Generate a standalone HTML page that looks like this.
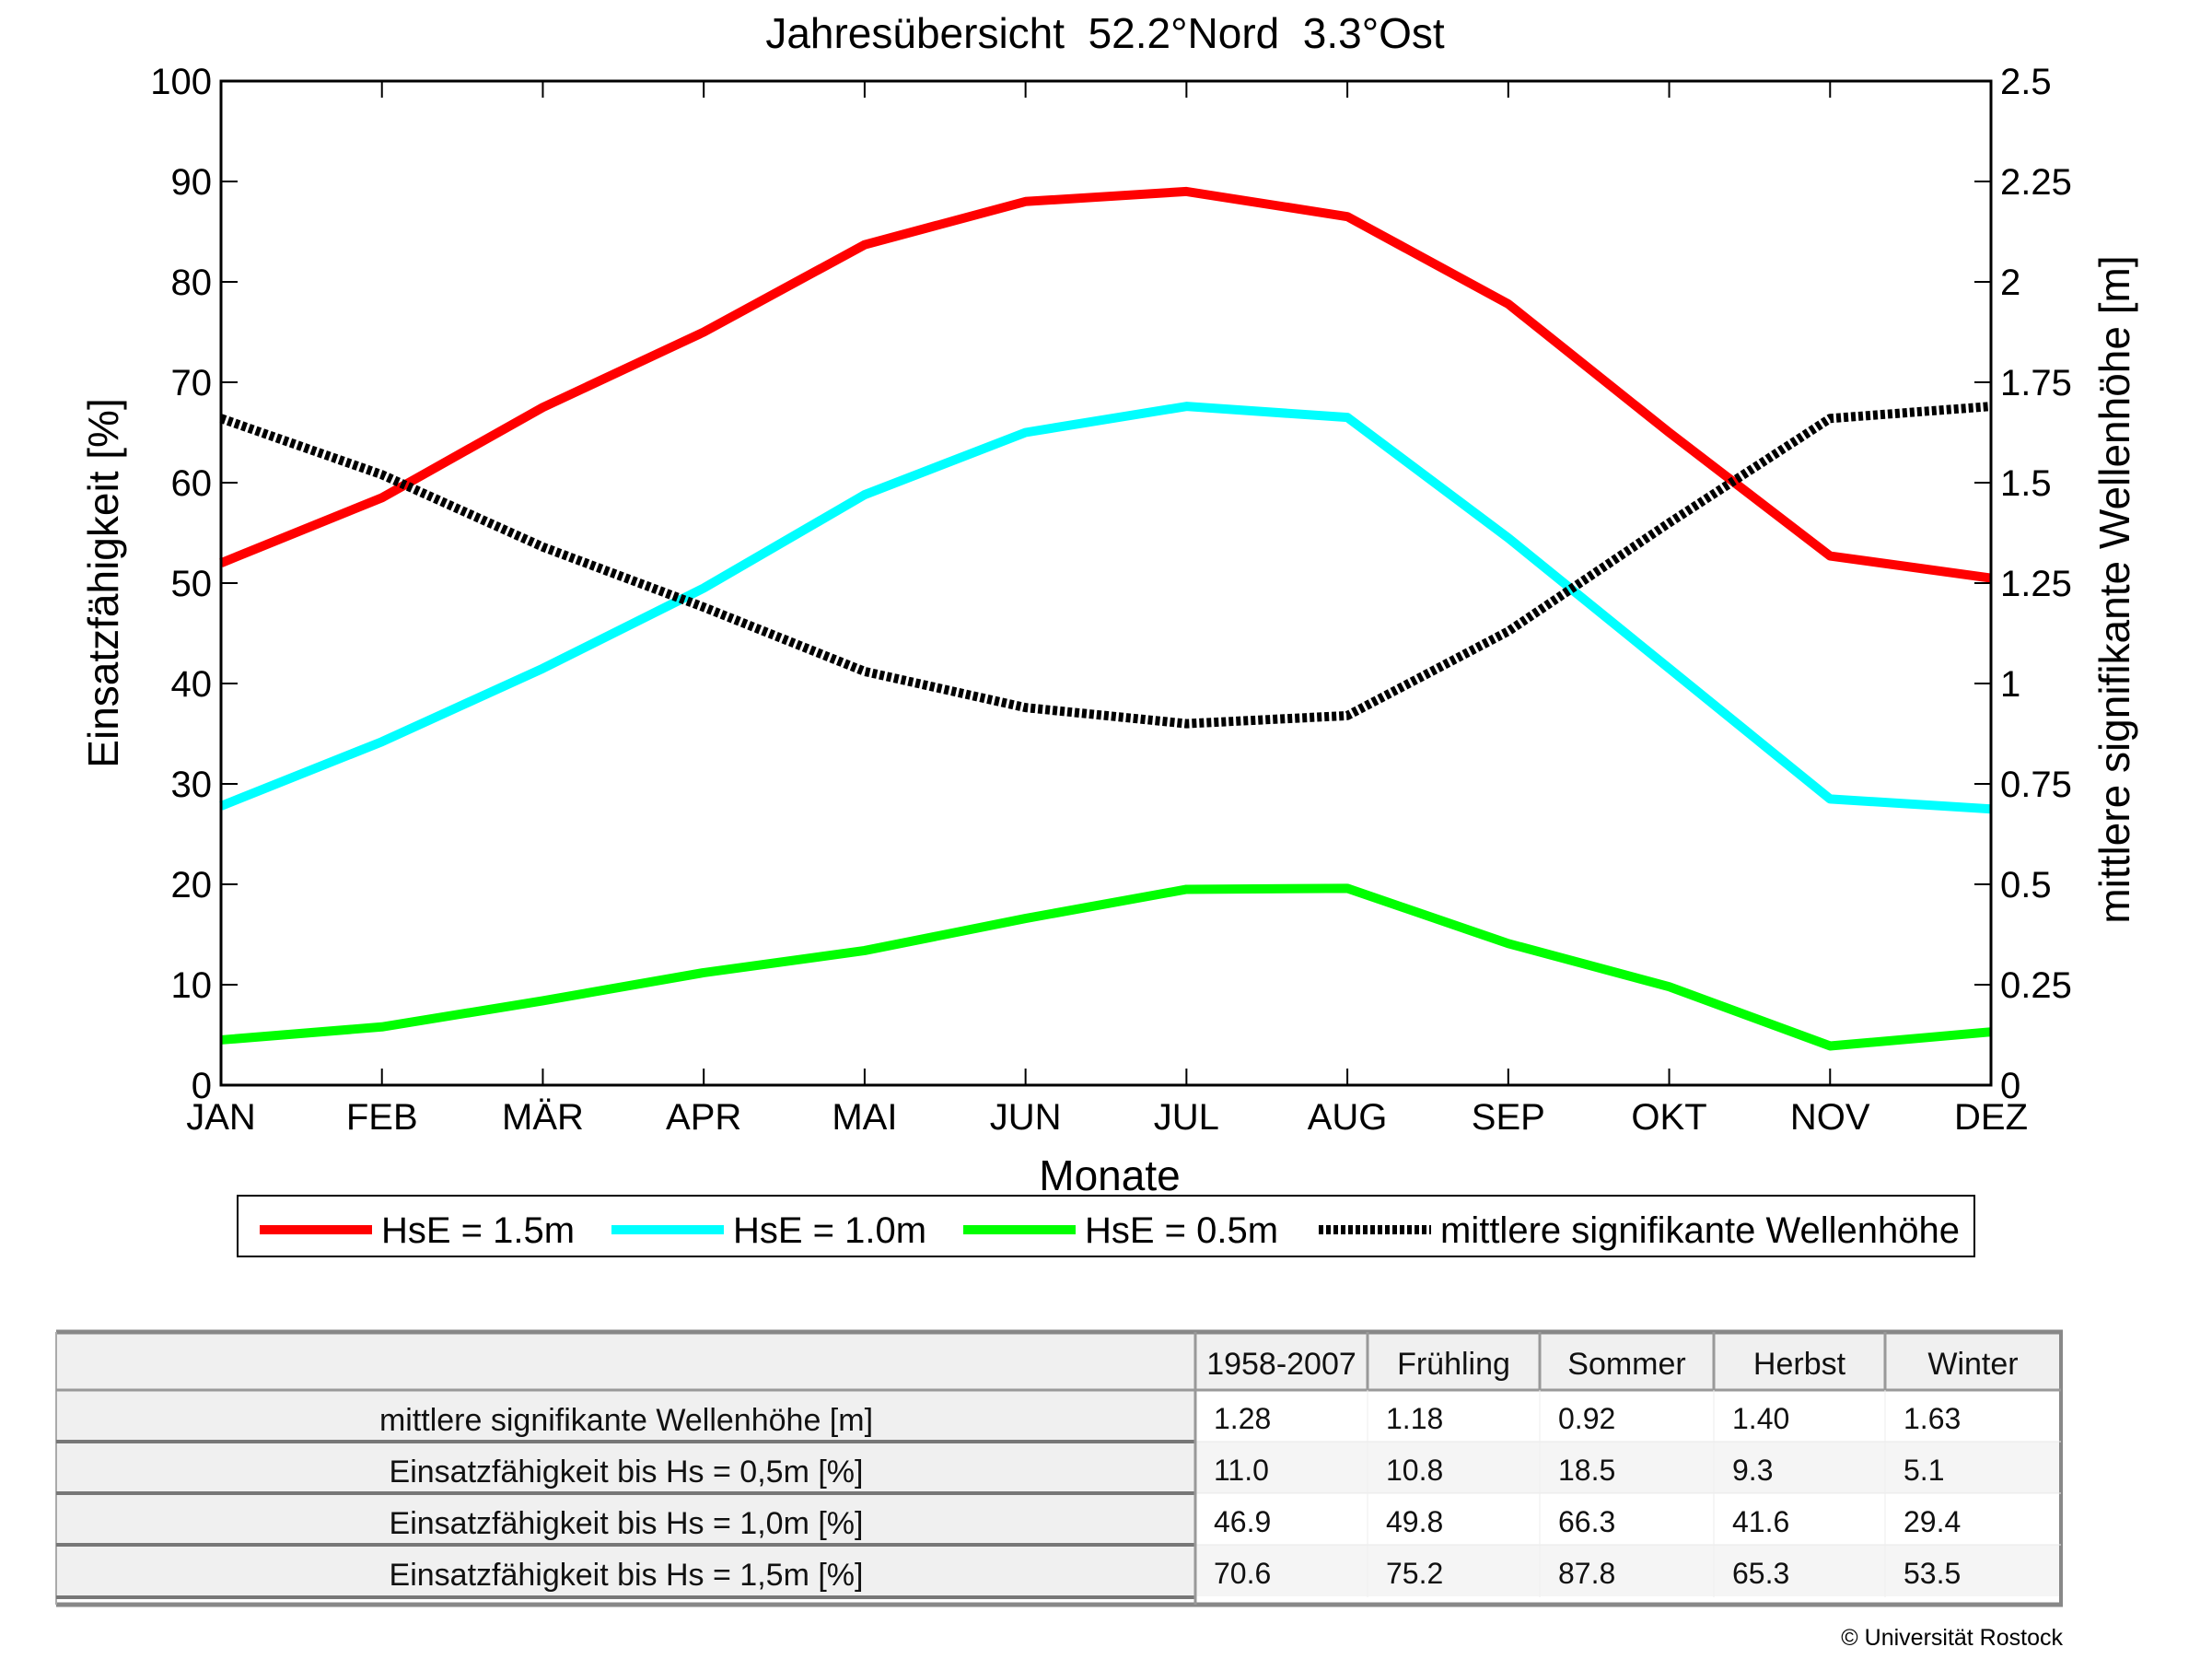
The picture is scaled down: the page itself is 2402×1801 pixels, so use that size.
<!DOCTYPE html>
<html><head><meta charset="utf-8"><style>
html,body{margin:0;padding:0;background:#fff;width:2402px;height:1801px;overflow:hidden}
svg{display:block}
text{font-family:"Liberation Sans",sans-serif}
</style></head><body>
<svg id="chart" width="2402" height="1801" viewBox="0 0 2402 1801" xmlns="http://www.w3.org/2000/svg">
<g id="plot"></g>
</svg>
<script>
const months = ["JAN","FEB","MÄR","APR","MAI","JUN","JUL","AUG","SEP","OKT","NOV","DEZ"];
const red15 = [52,58.5,67.5,75,83.7,88,89,86.5,77.8,65,52.7,50.5];
const cyan10 = [27.8,34.2,41.5,49.5,58.8,65,67.6,66.5,54.5,41.5,28.5,27.5];
const green05 = [4.5,5.8,8.4,11.2,13.4,16.6,19.5,19.6,14.1,9.8,3.9,5.3];
const waveH = [1.66,1.52,1.34,1.19,1.03,0.94,0.90,0.92,1.13,1.40,1.66,1.69];
const leftTicks = [0,10,20,30,40,50,60,70,80,90,100];
const rightTicks = ["0","0.25","0.5","0.75","1","1.25","1.5","1.75","2","2.25","2.5"];
const tableHead = ["1958-2007","Frühling","Sommer","Herbst","Winter"];
const tableRows = ["mittlere signifikante Wellenhöhe [m]","Einsatzfähigkeit bis Hs = 0,5m [%]","Einsatzfähigkeit bis Hs = 1,0m [%]","Einsatzfähigkeit bis Hs = 1,5m [%]"];
const tableVals = [["1.28","1.18","0.92","1.40","1.63"],["11.0","10.8","18.5","9.3","5.1"],["46.9","49.8","66.3","41.6","29.4"],["70.6","75.2","87.8","65.3","53.5"]];

const NS="http://www.w3.org/2000/svg";
const g=document.getElementById('plot');
const L=240,R=2162,T=88,B=1178;
const x=i=>L+(R-L)*i/(months.length-1);
const yL=v=>B-(B-T)*v/100;
const yR=v=>B-(B-T)*v/2.5;
function el(tag,attrs,parent){const e=document.createElementNS(NS,tag);for(const k in attrs)e.setAttribute(k,attrs[k]);(parent||g).appendChild(e);return e;}
function txt(s,attrs,parent){const e=el('text',attrs,parent);e.textContent=s;return e;}

let t=txt("Jahresübersicht\u00a0\u00a052.2°Nord\u00a0\u00a03.3°Ost",{x:1200,y:52,'font-size':46,'text-anchor':'middle'});


function series(vals,yf,color,name,dash){
  const p=el('polyline',{points:vals.map((v,i)=>x(i)+','+yf(v)).join(' '),fill:'none',stroke:color,'stroke-width':10,'stroke-linejoin':'round'});
  if(dash)p.setAttribute('stroke-dasharray','5 3');
  
}
series(red15,yL,'#ff0000','line-hse-1-5m');
series(cyan10,yL,'#00ffff','line-hse-1-0m');
series(green05,yL,'#00ff00','line-hse-0-5m');
series(waveH,yR,'#000000','line-mean-wave-height',true);

let box=el('rect',{x:L,y:T,width:R-L,height:B-T,fill:'none',stroke:'#000','stroke-width':3});

leftTicks.forEach(v=>{const y=yL(v);
  el('line',{x1:L,y1:y,x2:L+18,y2:y,stroke:'#000','stroke-width':2});
  const tt=txt(String(v),{x:L-10,y:y+14,'font-size':40,'text-anchor':'end'});
  });
rightTicks.forEach((s,i)=>{const y=B-(B-T)*i/10;
  el('line',{x1:R-18,y1:y,x2:R,y2:y,stroke:'#000','stroke-width':2});
  const tt=txt(s,{x:R+10,y:y+14,'font-size':40});
  });
months.forEach((m,i)=>{const xx=x(i);
  el('line',{x1:xx,y1:B,x2:xx,y2:B-18,stroke:'#000','stroke-width':2});
  el('line',{x1:xx,y1:T,x2:xx,y2:T+18,stroke:'#000','stroke-width':2});
  const tt=txt(m,{x:xx,y:B+48,'font-size':40,'text-anchor':'middle'});
  });
t=txt("Monate",{x:1205,y:1292,'font-size':46,'text-anchor':'middle'});

t=txt("Einsatzfähigkeit [%]",{x:128,y:(T+B)/2,'font-size':46,'text-anchor':'middle',transform:`rotate(-90 128 ${(T+B)/2})`});

t=txt("mittlere signifikante Wellenhöhe [m]",{x:2312,y:640,'font-size':46,'text-anchor':'middle',transform:'rotate(-90 2312 640)'});


const lg=el('g',{});
el('rect',{x:258,y:1298,width:1886,height:66,fill:'#fff',stroke:'#000','stroke-width':2},lg);
const legItems=[["HsE = 1.5m","#ff0000",282,0],["HsE = 1.0m","#00ffff",664,0],["HsE = 0.5m","#00ff00",1046,0],["mittlere signifikante Wellenhöhe","#000",1432,1]];
legItems.forEach(it=>{const ge=el('g',{},lg);
  const ln=el('line',{x1:it[2],y1:1335,x2:it[2]+122,y2:1335,stroke:it[1],'stroke-width':10},ge);
  if(it[3])ln.setAttribute('stroke-dasharray','5 3');
  txt(it[0],{x:it[2]+132,y:1349,'font-size':40},ge);});

const tb=el('g',{});
const colX=[1298,1485,1672,1861,2047,2238];
const rowY=[1446,1509,1565,1621,1677,1734];
el('rect',{x:61,y:rowY[0],width:2177,height:63,fill:'#f0f0f0'},tb);
for(let r=0;r<4;r++){
  el('rect',{x:61,y:rowY[r+1],width:1237,height:56,fill:'#f0f0f0'},tb);
  el('rect',{x:1298,y:rowY[r+1],width:940,height:56,fill:r%2?'#f5f5f5':'#fff'},tb);
}
el('line',{x1:61,y1:rowY[0],x2:2240,y2:rowY[0],stroke:'#888','stroke-width':5},tb);
el('line',{x1:61,y1:1742,x2:2240,y2:1742,stroke:'#888','stroke-width':5},tb);
el('line',{x1:61,y1:rowY[0],x2:61,y2:1742,stroke:'#aaa','stroke-width':2},tb);
el('line',{x1:2238,y1:rowY[0],x2:2238,y2:1742,stroke:'#888','stroke-width':4},tb);
el('line',{x1:61,y1:rowY[1],x2:2238,y2:rowY[1],stroke:'#999','stroke-width':3},tb);
for(let r=2;r<6;r++)el('line',{x1:61,y1:rowY[r],x2:1298,y2:rowY[r],stroke:'#777','stroke-width':4},tb);
for(let r=2;r<5;r++)el('line',{x1:1298,y1:rowY[r],x2:2238,y2:rowY[r],stroke:'#e8e8e8','stroke-width':1},tb);
colX.slice(0,5).forEach((cx,i)=>el('line',{x1:cx,y1:rowY[0],x2:cx,y2:i==0?1742:rowY[1],stroke:'#999','stroke-width':3},tb));
for(let c=1;c<5;c++)el('line',{x1:colX[c],y1:rowY[1],x2:colX[c],y2:1734,stroke:'#eee','stroke-width':1},tb);
tableHead.forEach((h,i)=>{const tt=txt(h,{x:(colX[i]+colX[i+1])/2,y:1492,'font-size':34,'text-anchor':'middle',fill:'#111'},tb);
  });
tableRows.forEach((s,r)=>{const tt=txt(s,{x:680,y:rowY[r+1]+44,'font-size':34,'text-anchor':'middle',fill:'#111'},tb);
  
  tableVals[r].forEach((v,c)=>{const tv=txt(v,{x:colX[c]+20,y:rowY[r+1]+42,'font-size':32,fill:'#111'},tb);
    });});
t=txt("© Universität Rostock",{x:2240,y:1786,'font-size':25,'text-anchor':'end'});

</script>
</body></html>
